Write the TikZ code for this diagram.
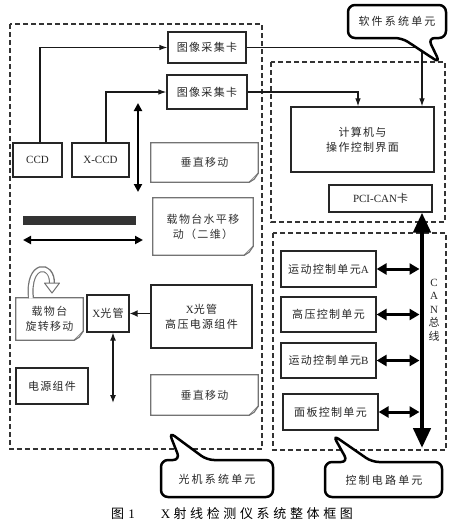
\documentclass[tikz,border=0pt]{standalone}
\usepackage{fontspec}
\setmainfont{Liberation Serif}
\newfontfamily\cjk[LetterSpace=12]{Noto Sans CJK SC}
\newfontfamily\cjkw[LetterSpace=20]{Noto Sans CJK SC}
\newfontfamily\cjkcap[LetterSpace=28]{Noto Sans CJK SC}
\usetikzlibrary{arrows.meta,calc}
\newcommand\notedraw[1]{%
  \draw[notepath] (#1.north west) -- (#1.north east) -- ([yshift=9pt]#1.south east) -- ([xshift=-9pt]#1.south east) -- (#1.south west) -- cycle;
  \draw[notepath, fill=black!12] ([yshift=9pt]#1.south east) -- ([xshift=-4pt,yshift=3pt]#1.south east) -- ([xshift=-9pt]#1.south east);
}
\begin{document}
\begin{tikzpicture}[x=1pt,y=-1pt,
  font=\fontsize{11}{15}\selectfont,
  box/.style={draw=black!85, line width=1.2pt, inner sep=0pt, text=black!85, align=center},
  note/.style={inner sep=0pt, align=center, text=black!80},
  notepath/.style={draw=black!55, line width=1.2pt, line join=miter},
  region/.style={draw=black!80, dash pattern=on 5pt off 3pt, line width=1.1pt},
  arr/.style={draw=black!90, line width=1.1pt, -{Latex[length=8pt,width=5.5pt]}},
  darr/.style={draw=black, line width=2.2pt, {Triangle[length=8pt,width=8pt]}-{Triangle[length=8pt,width=8pt]}},
  tarr/.style={draw=black!90, line width=1.2pt, {Latex[length=8pt,width=6pt]}-{Latex[length=8pt,width=6pt]}},
  carr/.style={draw=black, line width=3pt, {Triangle[length=10pt,width=11pt]}-{Triangle[length=10pt,width=11pt]}},
  bus/.style={draw=black, line width=4.5pt, {Triangle[length=20pt,width=17pt]}-{Triangle[length=20pt,width=17pt]}},
  callout/.style={draw=black, line width=2.5pt, rounded corners=7pt, fill=white},
  ctext/.style={inner sep=0pt, text=black!85}]
\useasboundingbox (0,0) rectangle (463,528);
\fill[white] (0,0) rectangle (463,528);

% regions
\draw[region] (10,24) rectangle (262,449);
\draw[region] (271,62) rectangle (445,222);
\draw[region] (273,233) rectangle (446,450);

% boxes left
\node[box, minimum width=78pt, minimum height=31pt] (card1) at (207,47.5) {\cjk 图像采集卡};
\node[box, minimum width=80pt, minimum height=34pt] (card2) at (207,92) {\cjk 图像采集卡};
\node[box, minimum width=49pt, minimum height=34pt] (ccd) at (37.5,160) {CCD};
\node[box, minimum width=57pt, minimum height=34pt] (xccd) at (100.5,160) {X-CCD};
\node[note, minimum width=107pt, minimum height=39pt] (vert1) at (204.5,162.5) {\cjk 垂直移动};
\node[note, minimum width=100pt, minimum height=57pt] (horiz) at (203,226.5) {\cjk 载物台水平移\\\cjk 动（二维）};
\node[note, minimum width=67pt, minimum height=42pt] (rot) at (49.5,319) {\cjk 载物台\\\cjk 旋转移动};
\node[box, minimum width=42pt, minimum height=37pt] (xtube) at (108,313.5) {X\cjk 光管};
\node[box, minimum width=101pt, minimum height=63pt] (hv) at (201.5,316.5) {X\cjk 光管\\\cjk 高压电源组件};
\node[box, minimum width=72pt, minimum height=36pt] (power) at (52,386) {\cjk 电源组件};
\node[note, minimum width=107pt, minimum height=40pt] (vert2) at (204.5,395) {\cjk 垂直移动};
\notedraw{vert1}
\notedraw{horiz}
\notedraw{rot}
\notedraw{vert2}

% bar and arrows
\fill[black!80] (23,216) rectangle (136,225);
\coordinate (h1) at (23,240);
\coordinate (h2) at (143,240);
\draw[darr] (h1) -- (h2);
\coordinate (v1t) at (138,103);
\coordinate (v1b) at (138,192);
\draw[darr] (v1t) -- (v1b);
\coordinate (v2b) at (113,403);
\draw[tarr] (xtube.south -| v2b) -- (v2b);
\draw[draw=black!90, line width=1.8pt, -{Latex[length=8pt,width=7pt]}] (hv.west |- xtube.east) -- (xtube.east);

% rotation arrow
\draw[black!55, line width=6pt] (31,298) .. controls (27,262) and (53,262) .. (52,284);
\draw[white, line width=3.6pt] (31,298.5) .. controls (27,262) and (53,262) .. (52,285);
\draw[black!55, line width=1pt, fill=white, line join=round] (44.5,283) -- (59.5,283) -- (52,293) -- cycle;

% left connectors
\draw[arr] ([xshift=2.5pt]ccd.north) |- (card1.west);
\draw[arr] ([xshift=5.5pt]xccd.north) |- (card2.west);

% software region
\node[box, minimum width=143pt, minimum height=65pt] (comp) at (362.5,139.5) {\cjk 计算机与\\\cjk 操作控制界面};
\node[box, minimum width=103pt, minimum height=27pt] (pci) at (380.5,198.5) {PCI-CAN\cjk 卡};
\draw[arr] (card1.east) -| ([xshift=59.5pt]comp.north);
\draw[arr] (card2.east) -| ([xshift=-4.5pt]comp.north);

% control region
\node[box, minimum width=95pt, minimum height=36pt] (ca) at (328.5,269) {{\cjk 运动控制单元}A};
\node[box, minimum width=95pt, minimum height=35pt] (hc) at (328.5,314.5) {\cjk 高压控制单元};
\node[box, minimum width=95pt, minimum height=35pt] (cb) at (328.5,360.5) {{\cjk 运动控制单元}B};
\node[box, minimum width=95pt, minimum height=36pt] (pc) at (330.5,412) {\cjk 面板控制单元};
\coordinate (busx) at (422,0);
\coordinate (busl) at (419.5,0);
\coordinate (busbot) at (422,448);
\draw[bus] (pci.south -| busx) -- (busbot);
\draw[carr] (ca.east) -- (ca.east -| busl);
\draw[carr] (hc.east) -- (hc.east -| busl);
\draw[carr] (cb.east) -- (cb.east -| busl);
\draw[carr] (pc.east) -- (pc.east -| busl);
\node[ctext, align=center, font=\fontsize{11}{13.5}\selectfont] (canlbl) at (434,310) {C\\A\\N\\\cjk 总\\\cjk 线};

% callouts
\draw[callout] (180,460) -- (169,432) -- (207,460) -- (273,460) -- (273,497) -- (161,497) -- (161,460) -- cycle;
\node[ctext] (gj) at (217,479) {\cjkw 光机系统单元};
\draw[callout] (348,462) -- (333,435) -- (372,462) -- (442,462) -- (442,497) -- (325,497) -- (325,462) -- cycle;
\node[ctext] (kz) at (384,480) {\cjkw 控制电路单元};
\draw[callout] (428,38) -- (440,63) -- (402,38) -- (348,38) -- (348,5) -- (446,5) -- (446,38) -- cycle;
\node[ctext] (rj) at (397,21) {\cjkw 软件系统单元};

% caption
\node[inner sep=0pt, font=\fontsize{13}{15}\selectfont] (cap) at (232,514) {{\cjkcap 图}\,\,1\qquad X\ {\cjkcap 射线检测仪系统整体框图}};
\end{tikzpicture}
\end{document}
